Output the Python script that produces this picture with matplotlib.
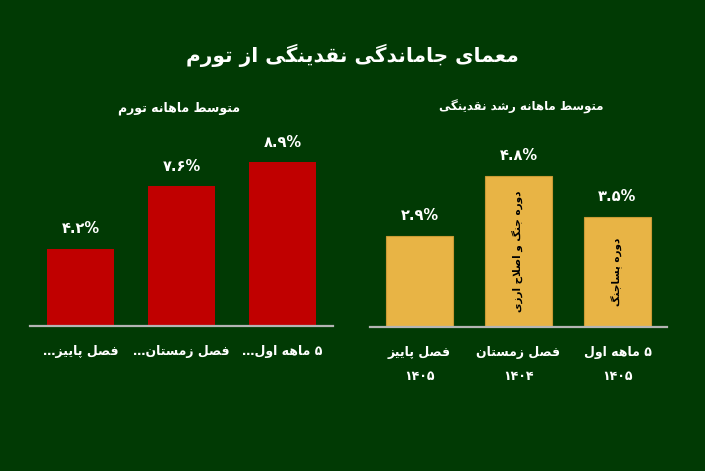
import numpy as np
import matplotlib.pyplot as plt

# ---- data (right-to-left charts, listed here left to right as drawn) ----
infl_labels = ["فصل پاییز…", "فصل زمستان…", "۵ ماهه اول…"]
infl_values = [4.2, 7.6, 8.9]

liq_labels = ["فصل پاییز", "فصل زمستان", "۵ ماهه اول"]
liq_years = ["۱۴۰۵", "۱۴۰۴", "۱۴۰۵"]
liq_values = [2.9, 4.8, 3.5]
liq_notes = ["", "دوره جنگ و اصلاح ارزی", "دوره پساجنگ"]

title = "معمای جاماندگی نقدینگی از تورم"
infl_title = "متوسط ماهانه تورم"
liq_title = "متوسط ماهانه رشد نقدینگی"

BG = "#013a04"
RED = "#c00000"
GOLD = "#e8b445"

# ---- minimal persian shaping (matplotlib has no bidi / joining) ----
FORMS = {
    "ا": ("\uFE8D", "\uFE8E", None, None),
    "پ": ("\uFB56", "\uFB57", "\uFB58", "\uFB59"),
    "ت": ("\uFE95", "\uFE96", "\uFE97", "\uFE98"),
    "ج": ("\uFE9D", "\uFE9E", "\uFE9F", "\uFEA0"),
    "ح": ("\uFEA1", "\uFEA2", "\uFEA3", "\uFEA4"),
    "د": ("\uFEA9", "\uFEAA", None, None),
    "ر": ("\uFEAD", "\uFEAE", None, None),
    "ز": ("\uFEAF", "\uFEB0", None, None),
    "س": ("\uFEB1", "\uFEB2", "\uFEB3", "\uFEB4"),
    "ش": ("\uFEB5", "\uFEB6", "\uFEB7", "\uFEB8"),
    "ص": ("\uFEB9", "\uFEBA", "\uFEBB", "\uFEBC"),
    "ط": ("\uFEC1", "\uFEC2", "\uFEC3", "\uFEC4"),
    "ع": ("\uFEC9", "\uFECA", "\uFECB", "\uFECC"),
    "ف": ("\uFED1", "\uFED2", "\uFED3", "\uFED4"),
    "ق": ("\uFED5", "\uFED6", "\uFED7", "\uFED8"),
    "ک": ("\uFB8E", "\uFB8F", "\uFB90", "\uFB91"),
    "گ": ("\uFB92", "\uFB93", "\uFB94", "\uFB95"),
    "ل": ("\uFEDD", "\uFEDE", "\uFEDF", "\uFEE0"),
    "م": ("\uFEE1", "\uFEE2", "\uFEE3", "\uFEE4"),
    "ن": ("\uFEE5", "\uFEE6", "\uFEE7", "\uFEE8"),
    "ه": ("\uFEE9", "\uFEEA", "\uFEEB", "\uFEEC"),
    "و": ("\uFEED", "\uFEEE", None, None),
    "ی": ("\uFBFC", "\uFBFD", "\uFBFE", "\uFBFF"),
}


def links_next(c):
    return c in FORMS and FORMS[c][2] is not None


def shape_line(text):
    out = []
    i = 0
    while i < len(text):
        c = text[i]
        if c not in FORMS:
            out.append(c)
            i += 1
            continue
        prev = text[i - 1] if i > 0 else ""
        p = links_next(prev)
        if c == "ل" and i + 1 < len(text) and text[i + 1] == "ا":
            out.append("\uFEFC" if p else "\uFEFB")
            i += 2
            continue
        nxt = text[i + 1] if i + 1 < len(text) else ""
        n = links_next(c) and nxt in FORMS
        iso, fin, ini, med = FORMS[c]
        if p and n:
            out.append(med)
        elif p:
            out.append(fin)
        elif n:
            out.append(ini)
        else:
            out.append(iso)
        i += 1
    return "".join(out)


def fa(text):
    lines = []
    for line in text.split("\n"):
        if any(ch in FORMS for ch in line):
            lines.append(shape_line(line)[::-1])
        else:
            lines.append(line)
    return "\n".join(lines)


def fa_num(v):
    s = f"{v}%"
    return s.translate(str.maketrans("0123456789", "۰۱۲۳۴۵۶۷۸۹"))


plt.rcParams["font.family"] = ["DejaVu Sans Condensed", "DejaVu Sans"]
plt.rcParams["font.weight"] = "bold"

fig = plt.figure(figsize=(7.05, 4.71), dpi=100, facecolor=BG)

fig.text(0.5, 0.883, fa(title), ha="center", va="center", color="white",
         fontsize=14.5, fontweight="bold")


def style_axes(ax):
    ax.set_facecolor(BG)
    for s in ["top", "left", "right"]:
        ax.spines[s].set_visible(False)
    ax.spines["bottom"].set_color("#b4b4b4")
    ax.spines["bottom"].set_linewidth(1.6)
    ax.set_yticks([])
    ax.tick_params(axis="x", length=0, pad=14, colors="white", labelsize=9)
    ax.set_xlim(-0.5, 2.5)


# left: inflation
ax1 = fig.add_axes([30 / 705, 145 / 471, 303 / 705, 196 / 471])
style_axes(ax1)
x1 = np.arange(len(infl_values))
ax1.bar(x1, infl_values, width=0.66, color=RED)
ax1.set_ylim(0, 10.65)
ax1.set_xticks(x1)
ax1.set_xticklabels([fa(t) for t in infl_labels], fontweight="bold")
for xi, v in zip(x1, infl_values):
    ax1.annotate(fa_num(v), (xi, v), xytext=(0, 9), textcoords="offset points",
                 ha="center", va="bottom", color="white", fontsize=10.5,
                 fontweight="bold")
fig.text(179 / 705, 1 - 108 / 471, fa(infl_title), ha="center", va="center",
         color="white", fontsize=9, fontweight="bold")

# right: liquidity growth
ax2 = fig.add_axes([370 / 705, 144 / 471, 297 / 705, 197 / 471])
style_axes(ax2)
x2 = np.arange(len(liq_values))
ax2.bar(x2, liq_values, width=0.67, color=GOLD, edgecolor="#c99a35",
        linewidth=0.8)
ax2.set_ylim(0, 6.25)
ax2.set_xticks(x2)
ax2.set_xticklabels([fa(t) + "\n" + y for t, y in zip(liq_labels, liq_years)],
                    fontweight="bold", linespacing=2.1)
for xi, v, note in zip(x2, liq_values, liq_notes):
    ax2.annotate(fa_num(v), (xi, v), xytext=(0, 9), textcoords="offset points",
                 ha="center", va="bottom", color="white", fontsize=10.5,
                 fontweight="bold")
    if note:
        ax2.text(xi, v / 2, fa(note), rotation=90, ha="center", va="center",
                 color="black", fontsize=7.5, fontweight="bold")
fig.text(521 / 705, 1 - 107 / 471, fa(liq_title), ha="center", va="center",
         color="white", fontsize=8.5, fontweight="bold")

fig.savefig("out.png", dpi=100, facecolor=BG)
